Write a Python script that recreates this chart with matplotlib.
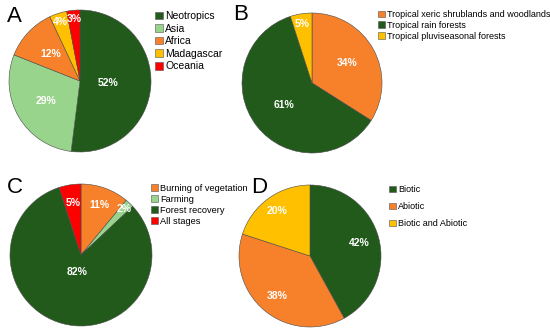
import numpy as np
import matplotlib
matplotlib.use("Agg")
import matplotlib.pyplot as plt
from matplotlib.patches import Patch

plt.rcParams['font.family'] = ['Liberation Sans', 'DejaVu Sans']

# colours
dgreen = '#215a1b'
lgreen = '#98d48b'
orange = '#f7812b'
yellow = '#ffc000'
red = '#ff0000'

# panel A - regions
regions = ['Neotropics', 'Asia', 'Africa', 'Madagascar', 'Oceania']
regions_pct = [52, 29, 12, 4, 3]
regions_col = [dgreen, lgreen, orange, yellow, red]
regions_dist = [0.40, 0.55, 0.56, 0.88, 0.88]

# panel B - biomes
biomes = ['Tropical xeric shrublands and woodlands', 'Tropical rain forests',
          'Tropical pluviseasonal forests']
biomes_pct = [34, 61, 5]
biomes_col = [orange, dgreen, yellow]
biomes_dist = [0.58, 0.51, 0.85]

# panel C - stages
stages = ['Burning of vegetation', 'Farming', 'Forest recovery', 'All stages']
stages_pct = [11, 2, 82, 5]
stages_col = [orange, lgreen, dgreen, red]
stages_dist = [0.75, 0.89, 0.24, 0.74]

# panel D - factors
factors = ['Biotic', 'Abiotic', 'Biotic and Abiotic']
factors_pct = [42, 38, 20]
factors_col = [dgreen, orange, yellow]
factors_dist = [0.72, 0.73, 0.78]

W, H = 550, 329
fig = plt.figure(figsize=(5.5, 3.29), dpi=100)


def pie_panel(cx, cy, r, vals, cols, dists, names, leg_xy, fs, spacing, letter, letter_xy):
    ax = fig.add_axes([(cx - r) / W, 1 - (cy + r) / H, 2 * r / W, 2 * r / H])
    wedges, _ = ax.pie(vals, colors=cols, startangle=90, counterclock=False,
                       wedgeprops=dict(edgecolor='#4a4a4a', linewidth=0.4))
    ax.set_xlim(-1, 1)
    ax.set_ylim(-1, 1)
    ax.set_aspect('equal')
    ax.axis('off')
    for w, v, d in zip(wedges, vals, dists):
        ang = np.deg2rad((w.theta1 + w.theta2) / 2)
        ax.text(d * np.cos(ang), d * np.sin(ang), '%d%%' % v, color='white',
                fontsize=7.5, fontweight='bold', ha='center', va='center')
    handles = [Patch(facecolor=c, edgecolor='#555555', linewidth=0.4) for c in cols]
    fig.legend(handles, names, loc='upper left',
               bbox_to_anchor=(leg_xy[0] / W, 1 - leg_xy[1] / H),
               frameon=False, fontsize=fs, handlelength=0.75, handleheight=0.75,
               handletextpad=0.25, labelspacing=spacing, borderpad=0, borderaxespad=0)
    fig.text(letter_xy[0] / W, 1 - letter_xy[1] / H, letter, fontsize=16,
             ha='left', va='top')


pie_panel(80, 81, 71, regions_pct, regions_col, regions_dist, regions,
          (155, 11), 7.5, 0.25, 'A', (7, 6))
pie_panel(312, 83, 70, biomes_pct, biomes_col, biomes_dist, biomes,
          (378, 10), 6.5, 0.2, 'B', (233, 4))
pie_panel(81, 255, 71, stages_pct, stages_col, stages_dist, stages,
          (151, 184), 6.7, 0.22, 'C', (7, 177))
pie_panel(310, 256, 71, factors_pct, factors_col, factors_dist, factors,
          (389, 185), 6.5, 0.9, 'D', (251, 177))

fig.savefig('out.png', dpi=100)
